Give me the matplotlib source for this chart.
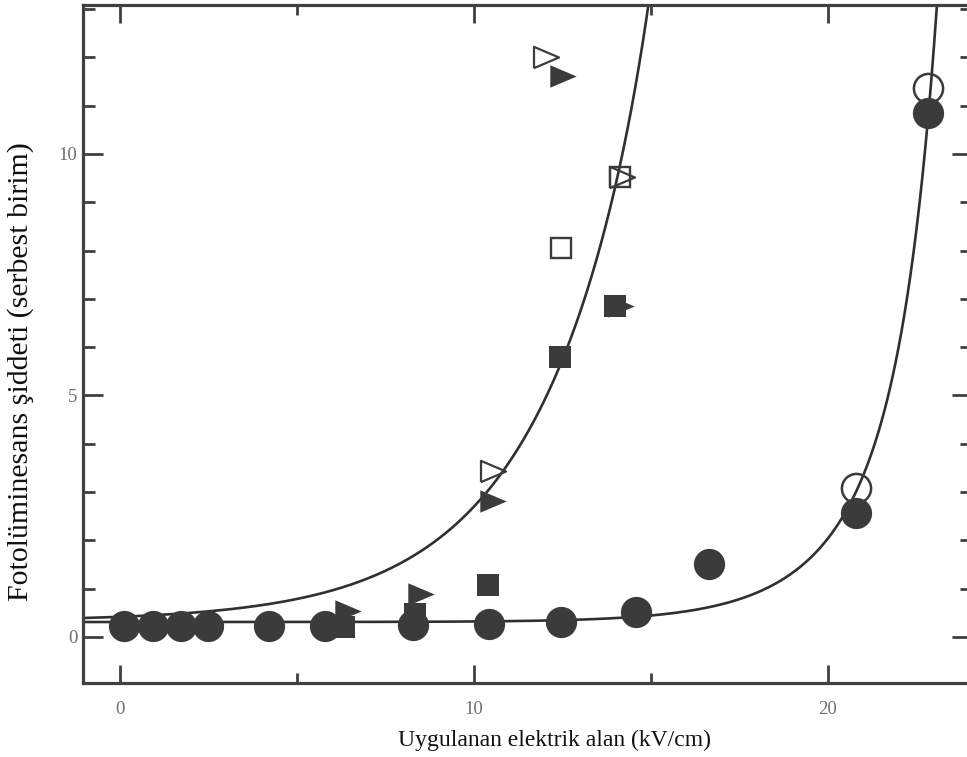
import numpy as np
import matplotlib
matplotlib.use("Agg")
import matplotlib.pyplot as plt
from matplotlib.ticker import MultipleLocator

# Measured photoluminescence intensity vs. applied field (kV/cm)
circ_fill_x = [0.1, 0.93, 1.72, 2.5, 4.2, 5.8, 8.28, 10.43, 12.46, 14.58, 16.64, 20.8, 22.83]
circ_fill_y = [0.23, 0.23, 0.23, 0.23, 0.23, 0.23, 0.25, 0.27, 0.31, 0.52, 1.51, 2.57, 10.85]
circ_open_x = [20.8, 22.83]
circ_open_y = [3.08, 11.37]

sq_fill_x = [6.33, 8.33, 10.4, 12.43, 13.98]
sq_fill_y = [0.21, 0.47, 1.07, 5.80, 6.86]
sq_open_x = [12.46, 14.12]
sq_open_y = [8.06, 9.53]

tri_fill_x = [6.44, 8.5, 10.54, 12.51, 14.15]
tri_fill_y = [0.54, 0.89, 2.81, 11.61, 6.86]
tri_open_x = [10.54, 12.03, 14.18]
tri_open_y = [3.44, 12.0, 9.53]

# Fitted curves: base + amp1*exp(rate1*(x-ref1)) + amp2*exp(rate2*(x-ref2))
fit_upper = dict(base=0.33, amp1=9.19, rate1=0.329, ref1=14.12, amp2=0.76, rate2=1.5, ref2=14.92)
fit_lower = dict(base=0.31, amp1=1.10, rate1=0.50, ref1=19.2, amp2=5.13, rate2=1.31, ref2=23.08)

x_ticks_major = [0, 10, 20]
y_ticks_major = [0, 5, 10]

xlabel = "Uygulanan elektrik alan (kV/cm)"
ylabel = "Fotolüminesans şiddeti (serbest birim)"


def fit_curve(x, p):
    return (p["base"] + p["amp1"] * np.exp(p["rate1"] * (x - p["ref1"]))
            + p["amp2"] * np.exp(p["rate2"] * (x - p["ref2"])))


plt.rcParams["font.family"] = ["Liberation Serif", "DejaVu Serif"]

fig = plt.figure(figsize=(9.67, 7.57), dpi=100)
ax = fig.add_axes([0.0858, 0.0978, 1.0052 - 0.0858, 0.9934 - 0.0978])

ink = "#3b3b3b"
line_c = "#303030"

xlim = (-1.045, 24.07)
ylim = (-0.952, 13.085)
ax.set_xlim(*xlim)
ax.set_ylim(*ylim)

xs = np.linspace(xlim[0], xlim[1], 1200)
for p in (fit_upper, fit_lower):
    ys = fit_curve(xs, p)
    ax.plot(xs, ys, color=line_c, lw=1.9, zorder=2, clip_on=True)

tri_verts = [(-1, -0.85), (1, 0), (-1, 0.85), (-1, -0.85)]

ax.plot(circ_open_x, circ_open_y, ls="none", marker="o", ms=21, mfc="none",
        mec=ink, mew=1.8, zorder=3)
ax.plot(tri_open_x, tri_open_y, ls="none", marker=tri_verts, ms=18, mfc="none",
        mec=ink, mew=1.6, zorder=3)
ax.plot(sq_open_x, sq_open_y, ls="none", marker="s", ms=15, mfc="none",
        mec=ink, mew=1.7, zorder=3)
ax.plot(tri_fill_x, tri_fill_y, ls="none", marker=tri_verts, ms=19, mfc=ink,
        mew=0, zorder=4)
ax.plot(sq_fill_x, sq_fill_y, ls="none", marker="s", ms=16.5, mfc=ink,
        mew=0, zorder=4)
ax.plot(circ_fill_x, circ_fill_y, ls="none", marker="o", ms=22.5, mfc=ink,
        mew=0, zorder=5)

ax.set_xticks(x_ticks_major)
ax.set_yticks(y_ticks_major)
ax.xaxis.set_minor_locator(MultipleLocator(5))
ax.yaxis.set_minor_locator(MultipleLocator(1))

for s in ax.spines.values():
    s.set_linewidth(2.3)
    s.set_color("#404040")

ax.tick_params(axis="both", which="both", direction="in", top=True, right=True,
               color="#404040", labelcolor="#6e6e6e", labelsize=13.5)
ax.tick_params(axis="x", which="major", length=13, width=2.0, pad=13)
ax.tick_params(axis="x", which="minor", length=7.2, width=2.0)
ax.tick_params(axis="y", which="major", length=14.4, width=2.0, pad=4)
ax.tick_params(axis="y", which="minor", length=8.6, width=2.0)

fig.text(555 / 967, 1 - 740 / 757, xlabel, ha="center", va="center",
         fontsize=17, color="#111111")
fig.text(21 / 967, 1 - 372 / 757, ylabel, ha="center", va="center",
         rotation=90, fontsize=21.5, color="#111111")

fig.savefig("out.png", dpi=100, facecolor="white")
